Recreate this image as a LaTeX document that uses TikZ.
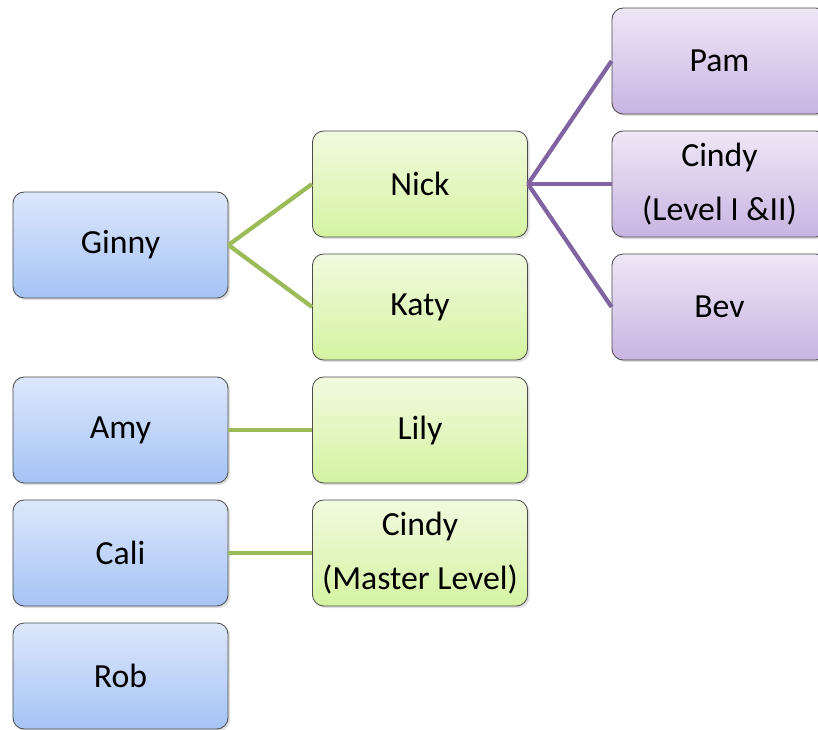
\documentclass[tikz,border=0pt]{standalone}
\usepackage{fontspec}
\setmainfont{Carlito}
\usetikzlibrary{shadows}
\definecolor{blueT}{HTML}{DDE7FB}
\definecolor{blueB}{HTML}{A5C3F5}
\definecolor{greenT}{HTML}{F1FADF}
\definecolor{greenB}{HTML}{D5F3A1}
\definecolor{purpT}{HTML}{EEE7F6}
\definecolor{purpB}{HTML}{C8B4E2}
\definecolor{greenL}{HTML}{9BBB59}
\definecolor{purpL}{HTML}{8064A2}
\begin{document}
\begin{tikzpicture}[x=0.025cm, y=-0.025cm,
    box/.style = {draw=black!70, rounded corners=8pt, minimum width=5.375cm, minimum height=2.65cm,
        align=center, font=\fontsize{24}{38}\selectfont, line width=0.6pt,
        drop shadow={opacity=0.25, shadow xshift=1.5pt, shadow yshift=-1.5pt}},
    root/.style = {box, top color=blueT, bottom color=blueB},
    mid/.style = {box, top color=greenT, bottom color=greenB},
    leaf/.style = {box, top color=purpT, bottom color=purpB},
    gline/.style = {draw=greenL, line width=3pt},
    pline/.style = {draw=purpL, line width=3pt}]
        \useasboundingbox (0, 0) rectangle (818, 730);

        \node[root] at (120.5, 245) (ginny) {Ginny};
        \node[root] at (120.5, 430) (amy) {Amy};
        \node[root] at (120.5, 553) (cali) {Cali};
        \node[root] at (120.5, 676) (rob) {Rob};

        \node[mid] at (420, 184) (nick) {Nick};
        \node[mid] at (420, 307) (katy) {Katy};
        \node[mid] at (420, 430) (lily) {Lily};
        \node[mid] at (420, 553) (cindym) {Cindy\\(Master Level)};

        \node[leaf] at (719.5, 61) (pam) {Pam};
        \node[leaf] at (719.5, 184) (cindyl) {Cindy\\(Level I \&II)};
        \node[leaf] at (719.5, 307) (bev) {Bev};

        \draw[gline] (ginny.east) -- (nick.west);
        \draw[gline] (ginny.east) -- (katy.west);
        \draw[gline] (amy.east) -- (lily.west);
        \draw[gline] (cali.east) -- (cindym.west);

        \draw[pline] (nick.east) -- (pam.west);
        \draw[pline] (nick.east) -- (cindyl.west);
        \draw[pline] (nick.east) -- (bev.west);
\end{tikzpicture}
\end{document}
